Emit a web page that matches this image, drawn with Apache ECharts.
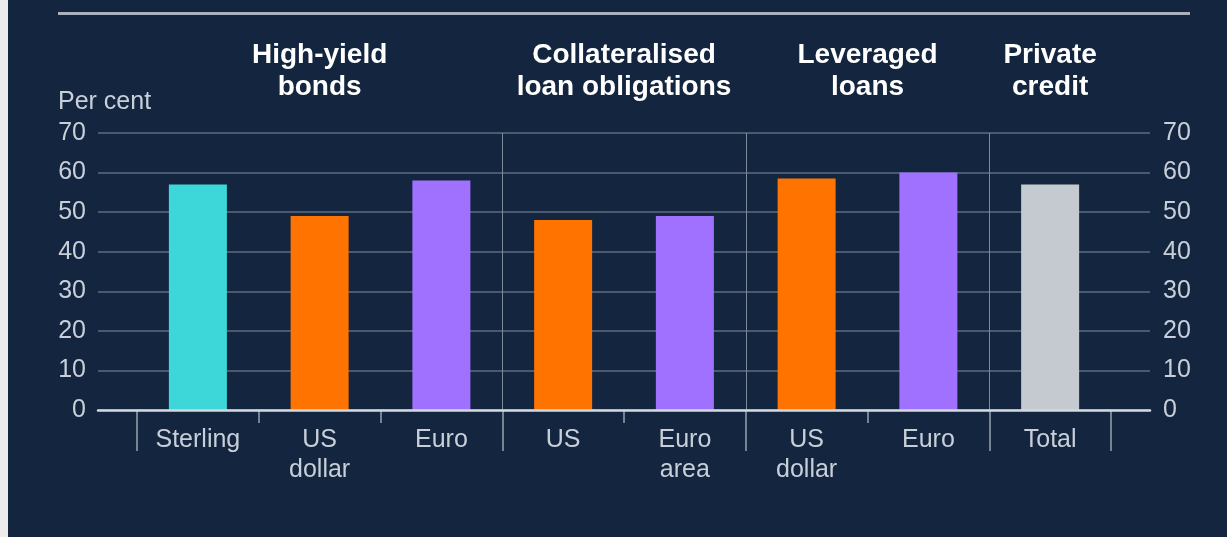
<!DOCTYPE html>
<html>
<head>
<meta charset="utf-8">
<script src="https://cdn.jsdelivr.net/npm/echarts@6/dist/echarts.min.js"></script>
<style>
  html, body { margin: 0; padding: 0; background: #14263f; }
  #chart { width: 1227px; height: 537px; }
</style>
</head>
<body>
<div id="chart"></div>
<script>
// Market categories along the x axis, grouped by credit market
const categories = ['Sterling', 'US\ndollar', 'Euro', 'US', 'Euro\narea', 'US\ndollar', 'Euro', 'Total'];
// Share of each market, per cent
const shares = [57, 49, 58, 48, 49, 58.5, 60, 57];
// Market groups shown as headings, and how many categories each covers
const groups = ['High-yield\nbonds', 'Collateralised\nloan obligations', 'Leveraged\nloans', 'Private\ncredit'];
const groupSpans = [3, 2, 2, 1];
// Value axis ticks
const yTicks = [0, 10, 20, 30, 40, 50, 60, 70];

// Bar colours by currency: sterling, US dollar, euro, total
const barPalette = ['#3dd7da', '#ff7300', '#a070ff', '#ff7300', '#a070ff', '#ff7300', '#a070ff', '#c5c9d0'];

const W = 1227, H = 537;
const plotTop = 133, plotBase = 410;
const gridLeft = 98, gridRight = 1150;   // extent of the horizontal gridlines
const catLeft = 137, catRight = 1111;    // extent of the category axis
const band = (catRight - catLeft) / categories.length;

const FONT = '"Liberation Sans", Arial, sans-serif';
const labelColor = '#c8cfd9';
const tickColor = '#98a2b0';

// Category boundaries (0..n) and the ones that close each group
const boundaryIds = Array.from({ length: categories.length + 1 }, (_, i) => String(i));
const groupEdges = [0];
groupSpans.forEach(s => groupEdges.push(groupEdges[groupEdges.length - 1] + s));
const separators = groupEdges.slice(1, -1);

// Group headings centred over their categories
const headingGraphics = [];
let start = 0;
groups.forEach((g, i) => {
  const cx = catLeft + band * (start + groupSpans[i] / 2);
  start += groupSpans[i];
  headingGraphics.push({
    type: 'text', x: cx, y: 39, silent: true,
    style: {
      text: g, fill: '#ffffff', fontFamily: FONT, fontSize: 28, fontWeight: 'bold',
      lineHeight: 32, align: 'center', verticalAlign: 'top'
    }
  });
});

const chart = echarts.init(document.getElementById('chart'), null, { renderer: 'canvas' });
chart.setOption({
  backgroundColor: '#14263f',
  animation: false,
  grid: [
    { left: gridLeft, right: W - gridRight, top: plotTop, bottom: H - plotBase },
    { left: catLeft, right: W - catRight, top: plotTop, bottom: H - plotBase }
  ],
  xAxis: [
    {
      gridIndex: 0, type: 'value', min: 0, max: 1, z: 10,
      axisLabel: { show: false }, axisTick: { show: false }, splitLine: { show: false },
      axisLine: { show: true, onZero: false, lineStyle: { color: '#d4d9e0', width: 2.5 } }
    },
    {
      gridIndex: 1, type: 'category', data: categories, position: 'bottom',
      axisLine: { show: false, onZero: false }, axisTick: { show: false },
      axisLabel: {
        interval: 0, margin: 15, color: labelColor, fontFamily: FONT, fontSize: 25, lineHeight: 30
      }
    },
    {
      gridIndex: 1, type: 'category', data: boundaryIds, boundaryGap: false, position: 'bottom',
      axisLine: { show: false, onZero: false }, axisLabel: { show: false },
      axisTick: { show: true, interval: 0, length: 13, lineStyle: { color: tickColor, width: 1.5 } },
      splitLine: {
        show: true, interval: (i) => separators.includes(i),
        lineStyle: { color: '#7e899a', width: 1 }
      }
    },
    {
      gridIndex: 1, type: 'category', data: boundaryIds, boundaryGap: false, position: 'bottom',
      axisLine: { show: false, onZero: false }, axisLabel: { show: false }, splitLine: { show: false },
      axisTick: {
        show: true, interval: (i) => groupEdges.includes(i), length: 41,
        lineStyle: { color: tickColor, width: 1.5 }
      }
    }
  ],
  yAxis: [
    {
      gridIndex: 0, type: 'value', position: 'left',
      min: yTicks[0], max: yTicks[yTicks.length - 1], interval: yTicks[1] - yTicks[0],
      axisLine: { show: false }, axisTick: { show: false },
      axisLabel: { margin: 12, color: labelColor, fontFamily: FONT, fontSize: 25 },
      splitLine: { show: true, lineStyle: { color: '#4a5a71', width: 2 } }
    },
    {
      gridIndex: 0, type: 'value', position: 'right',
      min: yTicks[0], max: yTicks[yTicks.length - 1], interval: yTicks[1] - yTicks[0],
      axisLine: { show: false }, axisTick: { show: false },
      axisLabel: { margin: 13, color: labelColor, fontFamily: FONT, fontSize: 25 },
      splitLine: { show: false }
    },
    {
      gridIndex: 1, type: 'value', show: false,
      min: yTicks[0], max: yTicks[yTicks.length - 1]
    }
  ],
  series: [
    {
      type: 'bar', xAxisIndex: 1, yAxisIndex: 2, data: shares, barWidth: 58,
      itemStyle: { color: (p) => barPalette[p.dataIndex] }
    }
  ],
  graphic: [
    { type: 'rect', silent: true, shape: { x: 0, y: 0, width: 8, height: H }, style: { fill: '#ececec' } },
    { type: 'rect', silent: true, shape: { x: 58, y: 12, width: 1132, height: 3 }, style: { fill: '#a9b1be' } },
    {
      type: 'text', x: 58, y: 102, silent: true,
      style: { text: 'Per cent', fill: labelColor, fontFamily: FONT, fontSize: 25, align: 'left', verticalAlign: 'middle' }
    }
  ].concat(headingGraphics)
});
</script>
</body>
</html>
